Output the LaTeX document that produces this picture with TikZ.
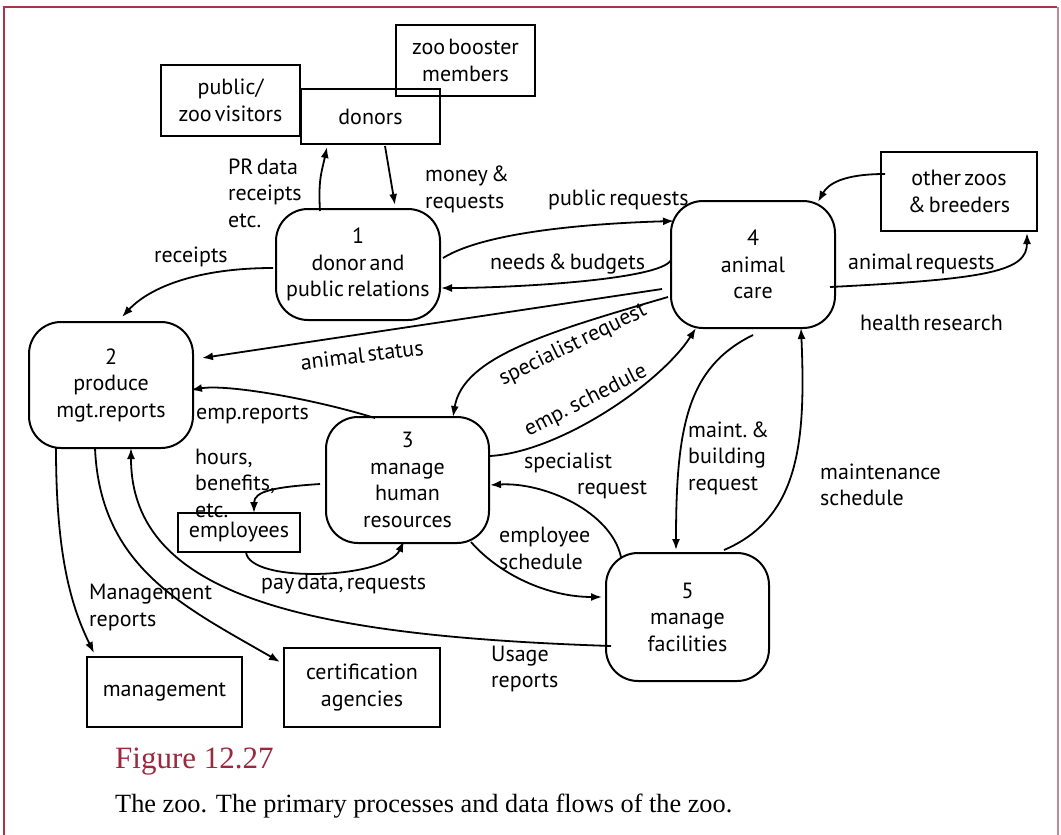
\documentclass[tikz,border=0pt]{standalone}
\usepackage{fontspec}
\setsansfont[WordSpace=0.55]{PT Sans}
\newfontfamily\capfont{Liberation Serif}
\usetikzlibrary{arrows.meta}
\definecolor{figred}{RGB}{155,40,62}
\definecolor{frameleft}{RGB}{170,52,74}
\definecolor{frameright}{RGB}{200,135,150}
\begin{document}
\begin{tikzpicture}[x=1pt,y=-1pt,
  txt/.style={font=\sffamily\fontsize{22}{26.5}\selectfont},
  extbox/.style={txt, draw, line width=2pt, inner sep=0pt, align=center},
  procbox/.style={txt, draw, line width=2pt, inner sep=0pt, align=center, rounded corners=32pt},
  lbl/.style={txt, inner sep=0pt, anchor=west, align=left},
  rlbl/.style={txt, inner sep=0pt, anchor=center},
  flow/.style={line width=1.8pt, -{Latex[length=11pt,width=8pt]}},
  capline/.style={inner sep=0pt, anchor=west}]
\useasboundingbox (0,0) rectangle (1061,835);
\fill[white] (0,0) rectangle (1061,835);

% page frame
\draw[frameleft, line width=2pt] (4,835) -- (4,7) -- (1057,7);
\draw[frameright, line width=2.5pt] (1058,7) -- (1058,835);

% external entities
\node[extbox, minimum width=139pt, minimum height=71pt] (pub) at (230.5,100.5) {public/\\zoo visitors};
\node[extbox, minimum width=139pt, minimum height=55pt] (don) at (370.5,116.5) {donors};
\node[extbox, minimum width=139pt, minimum height=71pt] (boost) at (465.5,60.5) {zoo booster\\members};
\node[extbox, minimum width=156pt, minimum height=79pt] (oz) at (959,191.5) {other zoos\\\& breeders};
\node[extbox, minimum width=122pt, minimum height=39pt] (emp) at (239,532.5) {employees};
\node[extbox, minimum width=155pt, minimum height=70pt] (mgmt) at (164.5,692) {management};
\node[extbox, minimum width=156pt, minimum height=79pt] (cert) at (362,687.5) {certification\\agencies};

% processes
\node[procbox, minimum width=164pt, minimum height=111pt] (p1) at (358,264.5) {1\\donor and\\public relations};
\node[procbox, minimum width=164pt, minimum height=126pt] (p2) at (111,385) {2\\produce\\mgt.reports};
\node[procbox, minimum width=163pt, minimum height=126pt] (p3) at (407.5,480) {3\\manage\\human\\resources};
\node[procbox, minimum width=164pt, minimum height=127pt] (p4) at (753,264.5) {4\\animal\\care};
\node[procbox, minimum width=163pt, minimum height=128pt] (p5) at (687.5,617) {5\\manage\\facilities};

% data flows
\draw[flow] ([shift={(-38,-53.5)}]p1.center) .. controls +(-2,-32) and +(-5,24) .. ([shift={(-43.5,30.5)}]don.center);
\draw[flow] ([shift={(14.5,29.5)}]don.center) -- ([shift={(37,-59.5)}]p1.center);
\draw[flow] ([shift={(-85,3.5)}]p1.center) .. controls +(-75,0) and +(28,-30) .. ([shift={(11,-68)}]p2.center);
\draw[flow] ([shift={(85,-6.5)}]p1.center) .. controls +(45,-28) and +(-70,2) .. ([shift={(-79,-43.5)}]p4.center);
\draw[flow] ([shift={(-82,-4.5)}]p4.center) .. controls +(-10,20) and +(70,0) .. ([shift={(83,23.5)}]p1.center);
\draw[flow] ([shift={(-91,24.5)}]p4.center) -- ([shift={(91,-27)}]p2.center);
\draw[flow] ([shift={(-85,32.5)}]p4.center) .. controls +(-120,35) and +(10,-60) .. ([shift={(45.5,-63)}]p3.center);
\draw[flow] ([shift={(82.5,-24)}]p3.center) .. controls +(70,-4) and +(-35,55) .. ([shift={(-57,63.5)}]p4.center);
\draw[flow] ([shift={(-32.5,-62)}]p3.center) .. controls +(-65,-20) and +(35,-6) .. ([shift={(80,5)}]p2.center);
\draw[flow] ([shift={(-87.5,4)}]p3.center) .. controls +(-45,3) and +(0,-22) .. ([shift={(15,-19.5)}]emp.center);
\draw[flow] ([shift={(7,19.5)}]emp.center) .. controls +(3,32) and +(-18,38) .. ([shift={(-3.5,61)}]p3.center);
\draw[flow] ([shift={(-55,63)}]p2.center) .. controls +(0,110) and +(-22,-45) .. ([shift={(-70.5,-39)}]mgmt.center);
\draw[flow] ([shift={(-16,63)}]p2.center) .. controls +(5,120) and +(-95,-55) .. ([shift={(-82,-25.5)}]cert.center);
\draw[flow] ([shift={(-76.5,29)}]p5.center) .. controls +(-300,-10) and +(0,150) .. ([shift={(20,63)}]p2.center);
\draw[flow] ([shift={(63.5,62)}]p3.center) .. controls +(28,32) and +(-55,0) .. ([shift={(-85.5,-20)}]p5.center);
\draw[flow] ([shift={(-66.5,-60)}]p5.center) .. controls +(-10,-45) and +(55,-3) .. ([shift={(82.5,5)}]p3.center);
\draw[flow] ([shift={(0,70.5)}]p4.center) .. controls +(-65,32) and +(0,-125) .. ([shift={(-11.5,-67)}]p5.center);
\draw[flow] ([shift={(36.5,-67)}]p5.center) .. controls +(75,-32) and +(5,115) .. ([shift={(48,63.5)}]p4.center);
\draw[flow] ([shift={(-74,-17.5)}]oz.center) .. controls +(-42,0) and +(10,-18) .. ([shift={(-141,10.5)}]oz.center);
\draw[flow] ([shift={(77,22.5)}]p4.center) .. controls +(160,-8) and +(0,38) .. ([shift={(68,41.5)}]oz.center);

% flow labels
\node[lbl] (lprdata) at (228,193) {PR data\\receipts\\etc.};
\node[lbl] (lmoney) at (425,189.5) {money \&\\requests};
\node[lbl] (lreceipts) at (154,257) {receipts};
\node[lbl] (lpubreq) at (548,200) {public requests};
\node[lbl] (lneeds) at (490,264) {needs \& budgets};
\node[lbl] (lanreq) at (848,264) {animal requests};
\node[lbl] (lhealth) at (860,323) {health research};
\node[rlbl, rotate=7] (lstatus) at (362,355) {animal status};
\node[rlbl, rotate=26] (lspec) at (573,345) {specialist request};
\node[rlbl, rotate=27] (lempsch) at (586,401) {emp. schedule};
\node[lbl] (lempr) at (196,415) {emp.reports};
\node[lbl] (lhours) at (195,483) {hours,\\benefits,\\etc.};
\node[lbl] (lpay) at (261,584) {pay data, requests};
\node[lbl] (lmgmt) at (89,607.5) {Management\\reports};
\node[lbl] (lspec2) at (524,476) {specialist\\\hspace*{53pt}request};
\node[lbl] (lempsch2) at (499,548.5) {employee\\schedule};
\node[lbl] (lmaint) at (688,458) {maint.\,\&\\building\\request};
\node[lbl] (lmaintsch) at (820,485) {maintenance\\schedule};
\node[lbl] (lusage) at (491,669) {Usage\\reports};

% caption
\node[capline, text=figred, font=\capfont\fontsize{31}{36}\selectfont] (figno) at (115,762) {Figure 12.27};
\node[capline, font=\capfont\fontsize{26.3}{30}\selectfont] (figtext) at (115,806) {The zoo. The primary processes and data flows of the zoo.};
\end{tikzpicture}
\end{document}
